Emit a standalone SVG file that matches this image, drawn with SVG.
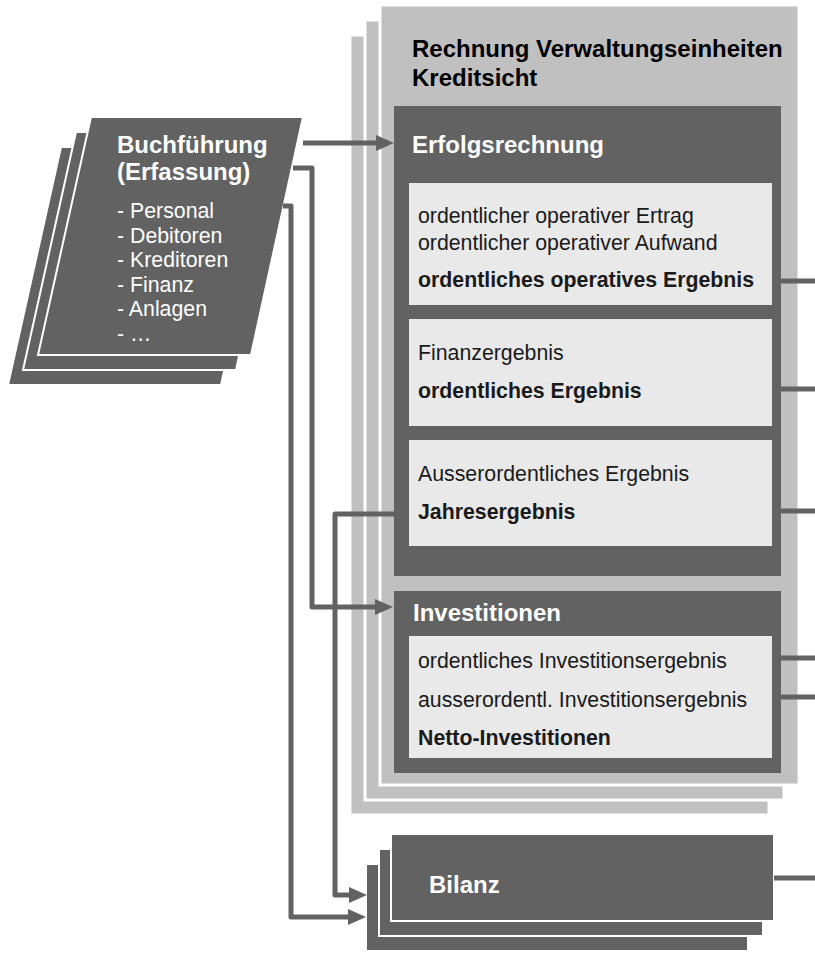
<svg xmlns="http://www.w3.org/2000/svg" width="815" height="972" viewBox="0 0 815 972">
<style>
text{font-family:"Liberation Sans",Arial,sans-serif}
.h{font-size:24px;font-weight:bold}
.hw{font-size:24px;font-weight:bold;fill:#ffffff}
.t{font-size:21.3px;fill:#1a1a1a}
.tb{font-size:21.3px;font-weight:bold;fill:#1a1a1a}
.lw{font-size:21.3px;fill:#ffffff}
.dark{fill:#626262;stroke:#ffffff;stroke-width:2}
.layer{fill:#c0c0c0;stroke:#ffffff;stroke-width:3}
.box{fill:#626262}
.lite{fill:#e9e9e9}
.c{fill:none;stroke:#626262;stroke-width:5;stroke-linejoin:round}
</style>
<defs>
<marker id="ah" markerUnits="userSpaceOnUse" markerWidth="18" markerHeight="16" refX="0" refY="8" orient="auto" overflow="visible">
<path d="M0,0 L18,8 L0,16 z" fill="#626262"/>
</marker>
</defs>
<g id="rechnung">
<rect class="layer" x="350" y="35" width="419" height="780"/>
<rect class="layer" x="365" y="20" width="419" height="780"/>
<rect class="layer" x="380" y="5" width="419" height="780"/>
<text class="h" x="412" y="57">Rechnung Verwaltungseinheiten</text>
<text class="h" x="412" y="86">Kreditsicht</text>
</g>
<g id="erfolgsrechnung">
<rect class="box" x="394" y="106" width="387" height="470"/>
<text class="hw" x="412" y="153">Erfolgsrechnung</text>
<rect class="lite" x="409" y="183" width="363" height="122"/>
<text class="t" x="418" y="223">ordentlicher operativer Ertrag</text>
<text class="t" x="418" y="250">ordentlicher operativer Aufwand</text>
<text class="tb" x="418" y="287">ordentliches operatives Ergebnis</text>
<rect class="lite" x="409" y="319" width="363" height="107"/>
<text class="t" x="418" y="360">Finanzergebnis</text>
<text class="tb" x="418" y="398">ordentliches Ergebnis</text>
<rect class="lite" x="409" y="440" width="363" height="106"/>
<text class="t" x="418" y="481">Ausserordentliches Ergebnis</text>
<text class="tb" x="418" y="519">Jahresergebnis</text>
</g>
<g id="investitionen">
<rect class="box" x="394" y="591" width="387" height="182"/>
<text class="hw" x="413" y="621">Investitionen</text>
<rect class="lite" x="409" y="636" width="363" height="122"/>
<text class="t" x="418" y="668">ordentliches Investitionsergebnis</text>
<text class="t" x="418" y="707">ausserordentl. Investitionsergebnis</text>
<text class="tb" x="418" y="745">Netto-Investitionen</text>
</g>
<g id="buchfuehrung">
<polygon class="dark" points="61,147 273,147 221,385 8,385"/>
<polygon class="dark" points="76,132 288,132 236,370 23,370"/>
<polygon class="dark" points="91,117 303,117 251,355 38,355"/>
<text class="hw" x="117" y="153">Buchführung</text>
<text class="hw" x="117" y="180">(Erfassung)</text>
<text class="lw" x="117" y="218">- Personal</text>
<text class="lw" x="117" y="242.5">- Debitoren</text>
<text class="lw" x="117" y="267">- Kreditoren</text>
<text class="lw" x="117" y="291.5">- Finanz</text>
<text class="lw" x="117" y="316">- Anlagen</text>
<text class="lw" x="117" y="340.5">- …</text>
</g>
<g id="bilanz">
<rect class="dark" x="366" y="864" width="382" height="87"/>
<rect class="dark" x="379" y="849" width="384" height="87"/>
<rect class="dark" x="391" y="834" width="383" height="87"/>
<text class="hw" x="429" y="893">Bilanz</text>
</g>
<g id="connectors">
<path class="c" d="M303,143 H376" marker-end="url(#ah)"/>
<path class="c" d="M293,168 H312 V607 H375" marker-end="url(#ah)"/>
<path class="c" d="M283,206 H291 V917 H348" marker-end="url(#ah)"/>
<path class="c" d="M395,514 H335 V895 H349" marker-end="url(#ah)"/>
<path class="c" d="M781,281 H815"/>
<path class="c" d="M781,389 H815"/>
<path class="c" d="M781,511 H815"/>
<path class="c" d="M781,658 H815"/>
<path class="c" d="M781,697 H815"/>
<path class="c" d="M774,878 H815"/>
</g>
</svg>
